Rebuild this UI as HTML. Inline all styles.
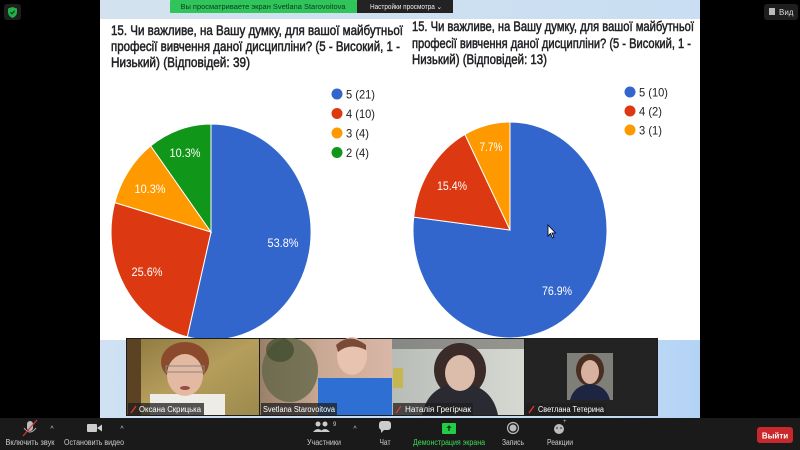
<!DOCTYPE html>
<html><head><meta charset="utf-8">
<style>
html,body{margin:0;padding:0;background:#000;}
svg{display:block;}
text{font-family:"Liberation Sans","Noto Sans CJK SC",sans-serif;}
</style></head>
<body>
<svg width="800" height="450" viewBox="0 0 800 450" xmlns="http://www.w3.org/2000/svg">
<defs>
<linearGradient id="topbg" x1="0" x2="1" y1="0" y2="0">
<stop offset="0" stop-color="#d3e2ee"/><stop offset="1" stop-color="#c9def3"/>
</linearGradient>
<linearGradient id="botbg" x1="0" x2="1" y1="0" y2="0">
<stop offset="0" stop-color="#cfe1f3"/><stop offset="0.85" stop-color="#c2daf3"/><stop offset="1" stop-color="#b3d3f6"/>
</linearGradient>
<linearGradient id="t1" x1="0" x2="1" y1="0" y2="1">
<stop offset="0" stop-color="#8d7840"/><stop offset="0.5" stop-color="#b59e5c"/><stop offset="1" stop-color="#9c8a4c"/>
</linearGradient>
<linearGradient id="t2" x1="0" x2="1" y1="0" y2="0">
<stop offset="0" stop-color="#9a8068"/><stop offset="0.45" stop-color="#c9a894"/><stop offset="1" stop-color="#d9b6a6"/>
</linearGradient>
<linearGradient id="t3" x1="0" x2="1" y1="0" y2="0">
<stop offset="0" stop-color="#b7bcb6"/><stop offset="0.5" stop-color="#c9ccc6"/><stop offset="1" stop-color="#d6d8d2"/>
</linearGradient>
</defs>

<rect x="0" y="0" width="800" height="450" fill="#000"/>

<rect x="100" y="0" width="600" height="20" fill="url(#topbg)"/>
<rect x="100" y="19" width="600" height="322" fill="#fff"/>
<rect x="100" y="340" width="600" height="78" fill="url(#botbg)"/>

<rect x="170" y="0" width="187" height="13" fill="#2fc55a" rx="1"/>
<text x="263" y="9" font-size="7" fill="#10391c" text-anchor="middle" textLength="165" lengthAdjust="spacingAndGlyphs">Вы просматриваете экран Svetlana Starovoitova</text>
<rect x="357" y="0" width="96" height="13" fill="#232323"/>
<text x="370" y="9" font-size="7" fill="#eee" textLength="72" lengthAdjust="spacingAndGlyphs">Настройки просмотра ⌄</text>

<rect x="4" y="4" width="17" height="16" rx="3" fill="#1e1e1e"/>
<path d="M12.5,7 L17,8.5 L17,12 Q17,16 12.5,18 Q8,16 8,12 L8,8.5 Z" fill="#22b04a"/>
<path d="M10.5,12.3 L12,13.8 L14.6,10.8" stroke="#0d3a18" stroke-width="1.2" fill="none"/>
<rect x="764" y="4" width="34" height="16" rx="3" fill="#1e1e1e"/>
<rect x="769" y="8" width="6" height="7" fill="#bbb"/>
<text x="779" y="15" font-size="8" fill="#ddd">Вид</text>

<g font-size="14" fill="#202124" stroke="#202124" stroke-width="0.5">
<text x="111" y="35" textLength="292" lengthAdjust="spacingAndGlyphs">15. Чи важливе, на Вашу думку, для вашої майбутньої</text>
<text x="111" y="51" textLength="289" lengthAdjust="spacingAndGlyphs">професії вивчення даної дисципліни? (5 - Високий, 1 -</text>
<text x="111" y="67" textLength="139" lengthAdjust="spacingAndGlyphs">Низький) (Відповідей: 39)</text>
<text x="412" y="31" textLength="282" lengthAdjust="spacingAndGlyphs">15. Чи важливе, на Вашу думку, для вашої майбутньої</text>
<text x="412" y="48" textLength="279" lengthAdjust="spacingAndGlyphs">професії вивчення даної дисципліни? (5 - Високий, 1 -</text>
<text x="412" y="64" textLength="135" lengthAdjust="spacingAndGlyphs">Низький) (Відповідей: 13)</text>
</g>

<g stroke="#fff" stroke-width="1">
<path d="M211,232 L211,124 A100,108 0 1,1 187.3,336.9 Z" fill="#3366cc"/>
<path d="M211,232 L187.3,336.9 A100,108 0 0,1 114.8,202.6 Z" fill="#dc3912"/>
<path d="M211,232 L114.8,202.6 A100,108 0 0,1 150.7,145.9 Z" fill="#ff9900"/>
<path d="M211,232 L150.7,145.9 A100,108 0 0,1 211,124 Z" fill="#109618"/>
</g>
<g font-size="11.5" fill="#fff" text-anchor="middle">
<text x="283" y="247" textLength="31" lengthAdjust="spacingAndGlyphs">53.8%</text>
<text x="147" y="276" textLength="31" lengthAdjust="spacingAndGlyphs">25.6%</text>
<text x="150" y="193" textLength="31" lengthAdjust="spacingAndGlyphs">10.3%</text>
<text x="185" y="157" textLength="31" lengthAdjust="spacingAndGlyphs">10.3%</text>
</g>
<circle cx="337" cy="94" r="5.5" fill="#3366cc"/>
<circle cx="337" cy="113.5" r="5.5" fill="#dc3912"/>
<circle cx="337" cy="133" r="5.5" fill="#ff9900"/>
<circle cx="337" cy="152.5" r="5.5" fill="#109618"/>
<g font-size="12" fill="#222">
<text x="346" y="98.5" textLength="29" lengthAdjust="spacingAndGlyphs">5 (21)</text>
<text x="346" y="118" textLength="29" lengthAdjust="spacingAndGlyphs">4 (10)</text>
<text x="346" y="137.5" textLength="23" lengthAdjust="spacingAndGlyphs">3 (4)</text>
<text x="346" y="157" textLength="23" lengthAdjust="spacingAndGlyphs">2 (4)</text>
</g>

<g stroke="#fff" stroke-width="1">
<path d="M510,230 L510,122 A97,108 0 1,1 413.7,217.1 Z" fill="#3366cc"/>
<path d="M510,230 L413.7,217.1 A97,108 0 0,1 464.9,134.4 Z" fill="#dc3912"/>
<path d="M510,230 L464.9,134.4 A97,108 0 0,1 510,122 Z" fill="#ff9900"/>
</g>
<g font-size="11.5" fill="#fff" text-anchor="middle">
<text x="557" y="295" textLength="30" lengthAdjust="spacingAndGlyphs">76.9%</text>
<text x="452" y="190" textLength="30" lengthAdjust="spacingAndGlyphs">15.4%</text>
<text x="491" y="151" textLength="23" lengthAdjust="spacingAndGlyphs">7.7%</text>
</g>
<circle cx="630" cy="92" r="5.5" fill="#3366cc"/>
<circle cx="630" cy="111" r="5.5" fill="#dc3912"/>
<circle cx="630" cy="130" r="5.5" fill="#ff9900"/>
<g font-size="12" fill="#222">
<text x="639" y="96.5" textLength="29" lengthAdjust="spacingAndGlyphs">5 (10)</text>
<text x="639" y="115.5" textLength="23" lengthAdjust="spacingAndGlyphs">4 (2)</text>
<text x="639" y="134.5" textLength="23" lengthAdjust="spacingAndGlyphs">3 (1)</text>
</g>
<path d="M548,225 L548,236 L550.5,233.5 L552.5,238 L554,237.3 L552,233 L555.5,233 Z" fill="#fff" stroke="#000" stroke-width="0.8"/>

<rect x="126" y="338" width="532" height="78" fill="#1c1c1c"/>
<rect x="127" y="339" width="132" height="76" fill="url(#t1)"/>
<rect x="127" y="339" width="14" height="76" fill="#5a4222"/>
<ellipse cx="185" cy="362" rx="24" ry="20" fill="#8c4a2c"/>
<rect x="150" y="394" width="75" height="21" fill="#eeece6"/>
<ellipse cx="185" cy="375" rx="18" ry="21" fill="#e4b9a2"/>
<rect x="166" y="366" width="38" height="6" fill="none" stroke="#888" stroke-width="1"/>
<ellipse cx="185" cy="388" rx="5" ry="2" fill="#9a4a48"/>
<rect x="260" y="339" width="132" height="76" fill="url(#t2)"/>
<ellipse cx="290" cy="370" rx="28" ry="32" fill="#5f6446" opacity="0.75"/>
<ellipse cx="280" cy="350" rx="14" ry="12" fill="#3e4a2e" opacity="0.7"/>
<rect x="318" y="378" width="74" height="37" fill="#2d6fd2"/>
<ellipse cx="352" cy="356" rx="15" ry="19" fill="#e7c3b0"/>
<path d="M336,345 Q350,332 366,345 L366,350 Q350,342 338,352 Z" fill="#7a4a36"/>
<rect x="392" y="339" width="132" height="76" fill="url(#t3)"/>
<rect x="392" y="339" width="132" height="10" fill="#555450" opacity="0.5"/>
<rect x="393" y="368" width="10" height="20" fill="#c9b434" opacity="0.8"/>
<ellipse cx="460" cy="370" rx="26" ry="27" fill="#3a2a28"/>
<path d="M422,415 Q428,385 460,383 Q492,385 498,415 Z" fill="#2a2b32"/>
<ellipse cx="460" cy="373" rx="15" ry="18" fill="#dcbcab"/>
<rect x="525" y="339" width="132" height="76" fill="#232323"/>
<rect x="567" y="353" width="46" height="47" fill="#7d7f78"/>
<ellipse cx="590" cy="370" rx="14" ry="16" fill="#4a2e22"/>
<path d="M570,400 Q574,385 590,384 Q606,385 610,400 Z" fill="#1e2540"/>
<ellipse cx="590" cy="372" rx="9" ry="12" fill="#d8b2a0"/>

<g font-size="8" fill="#fff">
<rect x="128" y="403" width="76" height="12" fill="#1f1f1f" opacity="0.75"/>
<path d="M131,413 L136,406" stroke="#e33" stroke-width="1.3"/>
<text x="139" y="412" textLength="62" lengthAdjust="spacingAndGlyphs">Оксана Скрицька</text>
<rect x="261" y="403" width="76" height="12" fill="#1f1f1f" opacity="0.75"/>
<text x="263" y="412" textLength="72" lengthAdjust="spacingAndGlyphs">Svetlana Starovoitova</text>
<rect x="393" y="403" width="80" height="12" fill="#1f1f1f" opacity="0.75"/>
<path d="M396,413 L401,406" stroke="#e33" stroke-width="1.3"/>
<text x="405" y="412" textLength="66" lengthAdjust="spacingAndGlyphs">Наталія Грегірчак</text>
<rect x="526" y="403" width="80" height="12" fill="#1f1f1f" opacity="0.75"/>
<path d="M529,413 L534,406" stroke="#e33" stroke-width="1.3"/>
<text x="538" y="412" textLength="66" lengthAdjust="spacingAndGlyphs">Светлана Тетерина</text>
</g>

<rect x="0" y="418" width="800" height="32" fill="#1a1a1a"/>
<rect x="27" y="421" width="6" height="10" rx="3" fill="#bbb"/>
<path d="M24,428 Q30,436 36,428" stroke="#bbb" fill="none" stroke-width="1"/>
<line x1="23" y1="436" x2="37" y2="420" stroke="#d33" stroke-width="1.2"/>
<text x="52" y="431" font-size="7" fill="#ccc" text-anchor="middle">^</text>
<rect x="87" y="424" width="10" height="8" rx="1" fill="#ccc"/>
<path d="M97,428 L102,424.5 L102,431.5 Z" fill="#ccc"/>
<text x="122" y="431" font-size="7" fill="#ccc" text-anchor="middle">^</text>
<circle cx="318" cy="424" r="2.5" fill="#ccc"/>
<circle cx="325" cy="424" r="2.5" fill="#ccc"/>
<path d="M313,432 Q318,426 323,432 Z M320,432 Q325,426 330,432 Z" fill="#ccc"/>
<text x="333" y="426" font-size="6" fill="#ccc">9</text>
<text x="355" y="431" font-size="7" fill="#ccc" text-anchor="middle">^</text>
<rect x="379" y="421" width="12" height="9" rx="3" fill="#ccc"/>
<path d="M381,429 L381,433 L385,429 Z" fill="#ccc"/>
<rect x="442" y="423" width="14" height="11" rx="1" fill="#22cc44"/>
<path d="M449,425 L446.5,428 L448.3,428 L448.3,431 L449.7,431 L449.7,428 L451.5,428 Z" fill="#0b3b16"/>
<circle cx="513" cy="428" r="5.5" fill="none" stroke="#bbb" stroke-width="1.2"/>
<circle cx="513" cy="428" r="3.5" fill="#bbb"/>
<circle cx="559" cy="429" r="5" fill="#bbb"/>
<circle cx="557" cy="428" r="0.8" fill="#1a1a1a"/>
<circle cx="561" cy="428" r="0.8" fill="#1a1a1a"/>
<text x="563" y="423" font-size="6" fill="#bbb">+</text>

<g font-size="8" fill="#ccc" text-anchor="middle">
<text x="30" y="445" textLength="49" lengthAdjust="spacingAndGlyphs">Включить звук</text>
<text x="94" y="445" textLength="60" lengthAdjust="spacingAndGlyphs">Остановить видео</text>
<text x="324" y="445" textLength="34" lengthAdjust="spacingAndGlyphs">Участники</text>
<text x="385" y="445" textLength="11" lengthAdjust="spacingAndGlyphs">Чат</text>
<text x="449" y="445" fill="#3ddc5a" textLength="72" lengthAdjust="spacingAndGlyphs">Демонстрация экрана</text>
<text x="513" y="445" textLength="22" lengthAdjust="spacingAndGlyphs">Запись</text>
<text x="560" y="445" textLength="26" lengthAdjust="spacingAndGlyphs">Реакции</text>
</g>
<rect x="757" y="427" width="36" height="16" rx="3" fill="#c8282c"/>
<text x="775" y="438.5" font-size="8" fill="#fff" font-weight="bold" text-anchor="middle">Выйти</text>
</svg>
</body></html>
